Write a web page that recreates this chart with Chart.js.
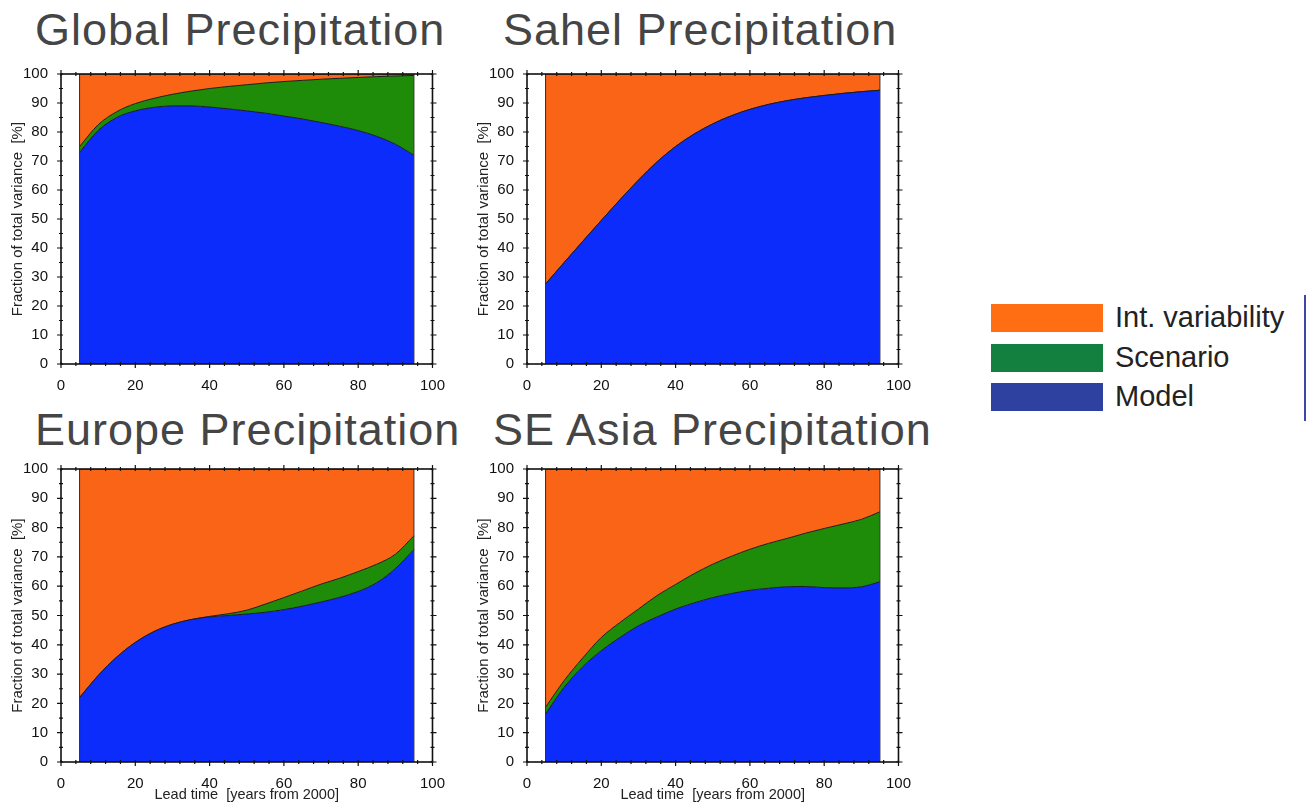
<!DOCTYPE html>
<html>
<head>
<meta charset="utf-8">
<script src="https://cdn.jsdelivr.net/npm/chart.js@4.4.1/dist/chart.umd.min.js"></script>
<style>
  html, body { margin: 0; padding: 0; background: #fff; }
  body { width: 1307px; height: 805px; position: relative; overflow: hidden;
         font-family: "Liberation Sans", Arial, Helvetica, sans-serif; }
  .panel-title { position: absolute; font-size: 45px; line-height: 45px; letter-spacing: 1px; color: #454545; white-space: nowrap; }
  canvas { position: absolute; }
  .swatch { position: absolute; left: 991px; width: 112px; height: 28px; box-sizing: border-box; }
  .legend-text { position: absolute; left: 1115px; font-size: 29px; line-height: 29px; color: #222; white-space: nowrap; }
  .legend-rule { position: absolute; left: 1304px; top: 295px; width: 2px; height: 126px; background: #3b4aa0; }
</style>
</head>
<body>
<div id="titles"></div>
<canvas id="c0" width="450" height="345" style="left:0px;top:60px;width:450px;height:345px"></canvas>
<canvas id="c1" width="450" height="345" style="left:466px;top:60px;width:450px;height:345px"></canvas>
<canvas id="c2" width="450" height="350" style="left:0px;top:455px;width:450px;height:350px"></canvas>
<canvas id="c3" width="450" height="350" style="left:466px;top:455px;width:450px;height:350px"></canvas>
<div id="legend"></div>
<div class="legend-rule"></div>
<script>
// Lead times (years from 2000) at which the variance fractions are given
const leadTimes = [5, 10, 15, 20, 25, 30, 35, 40, 45, 50, 55, 60, 65, 70, 75, 80, 85, 90, 95];

// Axis tick labels
const xTickValues = [0, 20, 40, 60, 80, 100];
const yTickValues = [0, 10, 20, 30, 40, 50, 60, 70, 80, 90, 100];

// Source names, top of the stack first
const seriesNames = ['Int. variability', 'Scenario', 'Model'];
const regionTitles = ['Global Precipitation', 'Sahel Precipitation', 'Europe Precipitation', 'SE Asia Precipitation'];

// Fraction of total variance [%] per source
const globalModel    = [73, 80.5, 85, 87.3, 88.5, 89, 89, 88.6, 88, 87.3, 86.5, 85.5, 84.5, 83.3, 82, 80.5, 78.5, 75.8, 72];
const globalScenario = [2, 2, 2, 2.5, 3.1, 4, 5.1, 6.4, 7.7, 9, 10.4, 11.9, 13.3, 14.9, 16.5, 18.3, 20.6, 23.5, 27.5];
const globalInternal = [25, 17.5, 13, 10.2, 8.4, 7, 5.9, 5, 4.3, 3.7, 3.1, 2.6, 2.2, 1.8, 1.5, 1.2, 0.9, 0.7, 0.5];

const sahelModel    = [27.6, 35, 42.3, 49.5, 56.6, 63.4, 69.7, 75, 79.3, 82.8, 85.6, 87.8, 89.5, 90.8, 91.8, 92.6, 93.3, 93.9, 94.4];
const sahelScenario = [0, 0, 0, 0, 0, 0, 0, 0, 0, 0, 0, 0, 0, 0, 0, 0, 0, 0, 0];
const sahelInternal = [72.4, 65, 57.7, 50.5, 43.4, 36.6, 30.3, 25, 20.7, 17.2, 14.4, 12.2, 10.5, 9.2, 8.2, 7.4, 6.7, 6.1, 5.6];

const europeModel    = [22, 29.5, 35.8, 40.8, 44.5, 47, 48.6, 49.5, 50, 50.5, 51.1, 52, 53.2, 54.6, 56.2, 58.2, 61.2, 66, 72.5];
const europeScenario = [0, 0, 0, 0, 0, 0, 0, 0.2, 0.6, 1.3, 2.8, 4.1, 5.2, 6.1, 6.5, 6.8, 6.3, 4.9, 4.7];
const europeInternal = [78, 70.5, 64.2, 59.2, 55.5, 53, 51.4, 50.3, 49.4, 48.2, 46.1, 43.9, 41.6, 39.3, 37.3, 35, 32.5, 29.1, 22.8];

const seAsiaModel    = [16.4, 25.5, 32.5, 38, 42.5, 46.5, 49.5, 52.2, 54.3, 56.1, 57.5, 58.6, 59.3, 59.8, 59.9, 59.5, 59.4, 59.8, 61.5];
const seAsiaScenario = [2.3, 2.3, 3, 4.5, 5.1, 5.7, 7.3, 8.4, 10, 11.4, 12.7, 14, 15.3, 16.5, 18.2, 20.2, 21.8, 23, 23.9];
const seAsiaInternal = [81.3, 72.2, 64.5, 57.5, 52.4, 47.8, 43.2, 39.4, 35.7, 32.5, 29.8, 27.4, 25.4, 23.7, 21.9, 20.3, 18.8, 17.2, 14.6];

// Colours
const fillColors   = { internal: '#fa6416', scenario: '#1e8c08', model: '#0b2cfb' };
const legendColors = ['#ff6e12', '#13803f', '#2f41a0'];

const regions = [
  { model: globalModel, scenario: globalScenario, internal: globalInternal },
  { model: sahelModel,  scenario: sahelScenario,  internal: sahelInternal },
  { model: europeModel, scenario: europeScenario, internal: europeInternal },
  { model: seAsiaModel, scenario: seAsiaScenario, internal: seAsiaInternal }
];

// Panel placement on the page
const panelLayout = [
  { canvas: 'c0', titleLeft: 35,  titleTop: 7,   padTop: 11, xHeight: 41, xTitle: false },
  { canvas: 'c1', titleLeft: 503, titleTop: 7,   padTop: 11, xHeight: 41, xTitle: false },
  { canvas: 'c2', titleLeft: 35,  titleTop: 407, padTop: 13, xHeight: 43, xTitle: true },
  { canvas: 'c3', titleLeft: 493, titleTop: 407, padTop: 13, xHeight: 43, xTitle: true }
];

const FONT = '"Liberation Sans", Arial, Helvetica, sans-serif';
const xMinorStep = 4;
const yMinorStep = 5;

// Frame, edge lines and minor ticks on all four sides
const frameTicks = {
  id: 'frameTicks',
  afterDatasetsDraw(chart) {
    const { ctx, chartArea: a, scales: { x, y } } = chart;
    ctx.save();
    ctx.strokeStyle = '#2a2a2a';
    ctx.lineWidth = 1;
    [leadTimes[0], leadTimes[leadTimes.length - 1]].forEach(v => {
      const px = x.getPixelForValue(v);
      ctx.beginPath();
      ctx.moveTo(px, y.getPixelForValue(0));
      ctx.lineTo(px, y.getPixelForValue(100));
      ctx.stroke();
    });
    ctx.strokeStyle = '#111';
    ctx.lineWidth = 1.6;
    ctx.strokeRect(a.left, a.top, a.right - a.left, a.bottom - a.top);
    ctx.lineWidth = 1.2;
    ctx.beginPath();
    for (let v = 0; v <= 100; v += yMinorStep) {
      const py = y.getPixelForValue(v);
      const out = v % 10 === 0 ? 4 : 2;
      ctx.moveTo(a.left - out, py); ctx.lineTo(a.left + 2, py);
      ctx.moveTo(a.right + out, py); ctx.lineTo(a.right - 2, py);
    }
    for (let v = 0; v <= 100; v += xMinorStep) {
      const px = x.getPixelForValue(v);
      const out = v % 20 === 0 ? 4 : 2;
      ctx.moveTo(px, a.bottom + out); ctx.lineTo(px, a.bottom - 2);
      ctx.moveTo(px, a.top - out); ctx.lineTo(px, a.top + 2);
    }
    ctx.stroke();
    ctx.restore();
  }
};

function points(values) {
  return leadTimes.map((t, i) => ({ x: t, y: values[i] }));
}

function makeDataset(label, values, color, fill) {
  return {
    label, data: points(values), fill,
    backgroundColor: color, borderColor: '#1c1c1c', borderWidth: 1,
    pointRadius: 0, cubicInterpolationMode: 'monotone'
  };
}

regions.forEach((r, i) => {
  const lay = panelLayout[i];

  const t = document.createElement('div');
  t.className = 'panel-title';
  t.style.left = lay.titleLeft + 'px';
  t.style.top = lay.titleTop + 'px';
  t.textContent = regionTitles[i];
  document.getElementById('titles').appendChild(t);

  new Chart(document.getElementById(lay.canvas), {
    type: 'line',
    data: {
      datasets: [
        makeDataset(seriesNames[2], r.model, fillColors.model, 'origin'),
        makeDataset(seriesNames[1], r.scenario, fillColors.scenario, '-1'),
        makeDataset(seriesNames[0], r.internal, fillColors.internal, '-1')
      ]
    },
    options: {
      responsive: false,
      animation: false,
      devicePixelRatio: 1,
      layout: { padding: { left: 0, right: 17, top: lay.padTop, bottom: 0 } },
      plugins: { legend: { display: false }, tooltip: { enabled: false } },
      scales: {
        x: {
          type: 'linear', min: 0, max: 100,
          afterBuildTicks: s => { s.ticks = xTickValues.map(v => ({ value: v })); },
          afterFit: s => { s.height = lay.xHeight; },
          ticks: { font: { family: FONT, size: 15 }, color: '#111', padding: 5, maxRotation: 0 },
          grid: { display: false },
          border: { display: false },
          title: {
            display: lay.xTitle, text: 'Lead time  [years from 2000]',
            font: { family: FONT, size: 14.5 }, color: '#222', padding: { top: 0, bottom: 1 }
          }
        },
        y: {
          stacked: true, min: 0, max: 100,
          afterBuildTicks: s => { s.ticks = yTickValues.map(v => ({ value: v })); },
          afterFit: s => { s.width = 61; },
          ticks: { font: { family: FONT, size: 15 }, color: '#111', padding: 5 },
          grid: { display: false },
          border: { display: false },
          title: {
            display: true, text: 'Fraction of total variance  [%]',
            font: { family: FONT, size: 15 }, color: '#222', padding: { top: 9, bottom: 0 }
          }
        }
      }
    },
    plugins: [frameTicks]
  });
});

// Legend
const legendTops = [304, 344, 383];
const legend = document.getElementById('legend');
seriesNames.forEach((name, i) => {
  const sw = document.createElement('div');
  sw.className = 'swatch';
  sw.style.top = legendTops[i] + 'px';
  sw.style.background = legendColors[i];
  legend.appendChild(sw);
  const tx = document.createElement('div');
  tx.className = 'legend-text';
  tx.style.top = (legendTops[i] - 1) + 'px';
  tx.textContent = name;
  legend.appendChild(tx);
});
</script>
</body>
</html>
